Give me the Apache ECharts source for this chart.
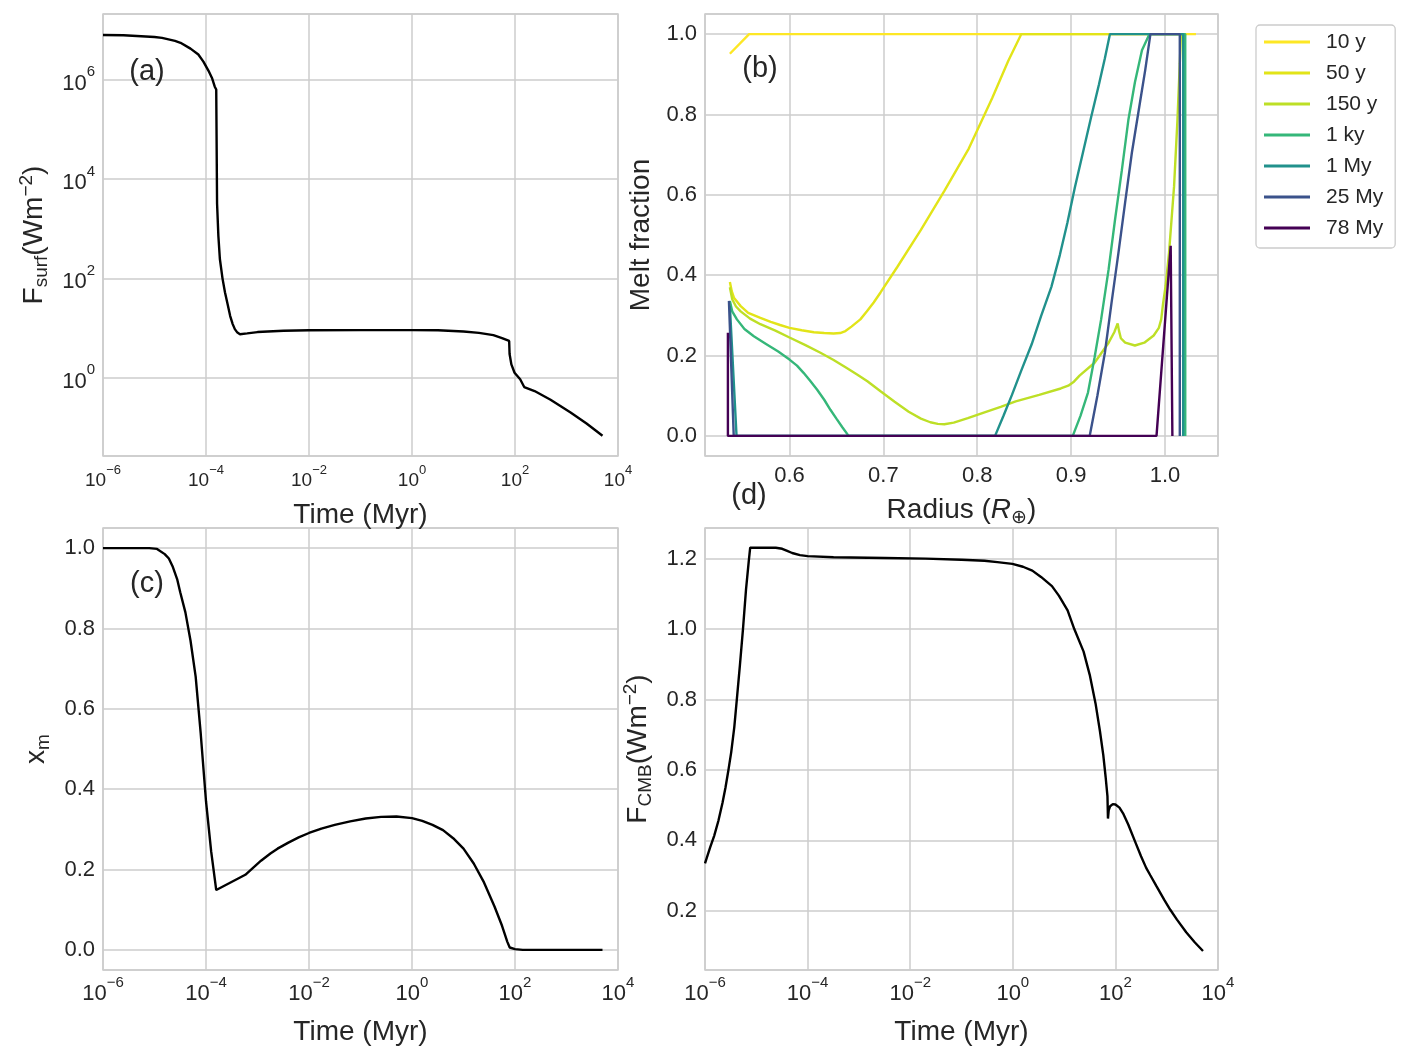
<!DOCTYPE html>
<html>
<head>
<meta charset="utf-8">
<script src="https://cdn.jsdelivr.net/npm/echarts@6/dist/echarts.min.js"></script>
<style>
  html, body { margin: 0; padding: 0; background: #fff; }
  #chart { width: 1409px; height: 1060px; }
</style>
</head>
<body>
<div id="chart"></div>
<script>
// (a) surface heat flux vs time (Myr, W m^-2)
var surfTime = [1e-6, 2.5e-6, 1e-5, 1.4e-5, 2.5e-5, 3.2e-5, 5e-5, 7.1e-5, 8.9e-5, 1.12e-4,
  1.32e-4, 1.48e-4, 1.58e-4, 1.62e-4, 1.64e-4, 1.74e-4, 1.86e-4, 2.09e-4, 2.34e-4, 2.63e-4,
  2.95e-4, 3.3e-4, 3.63e-4, 4.07e-4, 4.57e-4, 6.3e-4, 1e-3, 3.2e-3, 1e-2, 0.1,
  1, 3.2, 10, 20, 38, 56, 77, 78.5, 85, 98,
  126, 151, 240, 490, 1200, 2450, 5000];
var surfFlux = [7.9e6, 7.8e6, 7.2e6, 6.9e6, 6.0e6, 5.5e6, 4.2e6, 3.2e6, 2.3e6, 1.5e6,
  1.05e6, 7.2e5, 6.3e5, 6.0e5, 3.2e3, 708, 245, 100, 52, 30,
  17.4, 12, 9.5, 8.1, 7.5, 7.8, 8.3, 8.8, 9.0, 9.1,
  9.1, 9.0, 8.5, 8.0, 7.2, 6.3, 5.5, 3.0, 1.86, 1.26,
  0.93, 0.65, 0.54, 0.36, 0.20, 0.12, 0.068];

// (c) mantle melt fraction x_m vs time
var meltTime = [1e-6, 7.9e-6, 1.12e-5, 1.58e-5, 1.9e-5, 2.24e-5, 2.75e-5, 3.16e-5, 3.98e-5, 5e-5,
  6.3e-5, 7.9e-5, 1e-4, 1.26e-4, 1.58e-4, 5.8e-4, 1.17e-3, 1.78e-3, 2.45e-3, 3.98e-3,
  6.3e-3, 1e-2, 1.74e-2, 3.16e-2, 6.3e-2, 0.126, 0.25, 0.5, 1, 1.58,
  2.5, 4, 6.3, 10, 15.8, 25, 40, 56, 71, 79,
  100, 141, 5000];
var meltFrac = [1.0, 1.0, 0.998, 0.985, 0.974, 0.955, 0.923, 0.89, 0.84, 0.77,
  0.68, 0.538, 0.37, 0.245, 0.149, 0.187, 0.222, 0.24, 0.252, 0.267,
  0.280, 0.291, 0.302, 0.311, 0.320, 0.327, 0.331, 0.332, 0.328, 0.321,
  0.311, 0.298, 0.278, 0.252, 0.215, 0.168, 0.108, 0.06, 0.02, 0.006,
  0.002, 0.0, 0.0];

// (d) core-mantle boundary heat flux vs time
var cmbTime = [1e-6, 1.26e-6, 1.51e-6, 1.82e-6, 2.19e-6, 2.51e-6, 2.82e-6, 3.24e-6, 3.72e-6, 4.17e-6,
  4.79e-6, 5.5e-6, 6.3e-6, 7.1e-6, 7.6e-6, 2.4e-5, 3.2e-5, 4e-5, 5e-5, 7.1e-5,
  1e-4, 3.2e-4, 3.2e-3, 2e-2, 0.1, 0.28, 0.5, 0.98, 1.58, 2.4,
  3.55, 5.8, 7.9, 11.7, 15.8, 24, 31.6, 41, 50, 58,
  64.5, 70, 71.6, 74, 79, 89, 100, 120, 141, 178,
  240, 316, 398, 479, 631, 891, 1175, 1585, 2400, 3548, 5100];
var cmbFlux = [0.335, 0.38, 0.413, 0.455, 0.506, 0.55, 0.594, 0.65, 0.721, 0.80,
  0.897, 1.0, 1.112, 1.19, 1.231, 1.231, 1.228, 1.222, 1.216, 1.210,
  1.207, 1.204, 1.202, 1.200, 1.197, 1.194, 1.19, 1.185, 1.177, 1.166,
  1.148, 1.122, 1.095, 1.053, 1.0, 0.936, 0.87, 0.789, 0.71, 0.643,
  0.58, 0.526, 0.462, 0.485, 0.497, 0.503, 0.502, 0.493, 0.477, 0.445,
  0.398, 0.355, 0.322, 0.301, 0.27, 0.232, 0.203, 0.175, 0.139, 0.11, 0.086];

// (b) melt fraction profiles vs radius (R_earth)
var profileNames = ['10 y', '50 y', '150 y', '1 ky', '1 My', '25 My', '78 My'];
var r10y = [0.5365, 0.557, 1.033];
var m10y = [0.951, 1.0, 1.0];
var r50y = [0.5365, 0.5385, 0.541, 0.548, 0.556, 0.569, 0.58, 0.59, 0.60, 0.613,
  0.626, 0.637, 0.647, 0.654, 0.6596, 0.666, 0.6755, 0.6825, 0.6897, 0.697,
  0.715, 0.740, 0.765, 0.791, 0.816, 0.833, 0.847, 1.02];
var m50y = [0.383, 0.36, 0.343, 0.323, 0.306, 0.294, 0.284, 0.276, 0.269, 0.263,
  0.258, 0.256, 0.255, 0.256, 0.261, 0.272, 0.29, 0.31, 0.332, 0.357,
  0.421, 0.513, 0.610, 0.715, 0.841, 0.933, 1.0, 1.0];
var r150y = [0.5365, 0.539, 0.543, 0.548, 0.558, 0.569, 0.585, 0.6, 0.617, 0.633,
  0.647, 0.661, 0.672, 0.683, 0.697, 0.712, 0.727, 0.74, 0.75, 0.758,
  0.765, 0.775, 0.79, 0.807, 0.825, 0.841, 0.866, 0.889, 0.897, 0.903,
  0.909, 0.925, 0.94, 0.946, 0.9496, 0.951, 0.953, 0.9576, 0.968, 0.978,
  0.988, 0.9935, 0.996, 0.998, 1.0007, 1.0043, 1.0097, 1.0133, 1.0158, 1.017, 1.022];
var m150y = [0.37, 0.34, 0.322, 0.31, 0.292, 0.278, 0.262, 0.245, 0.226, 0.207,
  0.189, 0.169, 0.153, 0.136, 0.111, 0.085, 0.06, 0.043, 0.034, 0.030,
  0.029, 0.033, 0.044, 0.058, 0.072, 0.086, 0.102, 0.118, 0.125, 0.135,
  0.150, 0.182, 0.232, 0.258, 0.280, 0.262, 0.243, 0.232, 0.225, 0.232,
  0.250, 0.269, 0.290, 0.33, 0.373, 0.455, 0.621, 0.786, 0.927, 1.0, 1.0];
var r1ky = [0.5365, 0.539, 0.544, 0.552, 0.562, 0.575, 0.588, 0.6, 0.608, 0.615,
  0.622, 0.6295, 0.637, 0.6436, 0.65, 0.6565, 0.663, 0.9018, 0.91, 0.918,
  0.925, 0.932, 0.94, 0.9468, 0.954, 0.961, 0.968, 0.9755, 0.9835, 1.0216, 1.0216];
var m1ky = [0.336, 0.31, 0.29, 0.266, 0.248, 0.229, 0.21, 0.19, 0.175, 0.157,
  0.137, 0.115, 0.09, 0.065, 0.043, 0.021, 0.0, 0.0, 0.05, 0.108,
  0.195, 0.290, 0.415, 0.538, 0.66, 0.786, 0.88, 0.96, 1.0, 1.0, 0.0];
var r1My = [0.5365, 0.5436, 0.819, 0.828, 0.837, 0.847, 0.858, 0.868, 0.879, 0.888,
  0.896, 0.904, 0.9127, 0.921, 0.9296, 0.936, 0.9414, 1.0194, 1.0194];
var m1My = [0.324, 0.0, 0.0, 0.05, 0.102, 0.163, 0.228, 0.298, 0.371, 0.45,
  0.530, 0.618, 0.706, 0.79, 0.874, 0.94, 1.0, 1.0, 0.0];
var r25My = [0.5355, 0.5406, 0.9198, 0.928, 0.936, 0.943, 0.9504, 0.9575, 0.9647, 0.972,
  0.979, 0.9845, 1.0158, 1.0158];
var m25My = [0.336, 0.0, 0.0, 0.1, 0.207, 0.33, 0.455, 0.58, 0.704, 0.81,
  0.911, 1.0, 1.0, 0.0];
var r78My = [0.5344, 0.5344, 0.991, 1.0061, 1.0079];
var m78My = [0.257, 0.0, 0.0, 0.473, 0.0];

var profileR = [r10y, r50y, r150y, r1ky, r1My, r25My, r78My];
var profileM = [m10y, m50y, m150y, m1ky, m1My, m25My, m78My];
var profileColors = ['#fde725', '#e2e418', '#bddf26', '#35b779', '#21918c', '#3b528b', '#440154'];

var font = 'Liberation Sans';
var ink = '#262626';
var gridGray = '#cccccc';

var chart = echarts.init(document.getElementById('chart'));

// log10 of the values, the value axes carry the decades
var logPairs = function(xs, ys, logY) {
  return xs.map(function(x, i) {
    return [Math.log10(x), logY ? Math.log10(ys[i]) : ys[i]];
  });
};
var pairs = function(xs, ys) {
  return xs.map(function(x, i) { return [x, ys[i]]; });
};

var powLabel = function(v) {
  var e = Math.round(v);
  if (Math.abs(v - e) > 1e-6) return '';
  return '{b|10}{s|' + (e < 0 ? '\u2212' + (-e) : e) + '}';
};
var powRich = function(base, sup, lh) {
  return {
    b: { fontFamily: font, fontSize: base, color: ink, verticalAlign: 'bottom', lineHeight: lh },
    s: { fontFamily: font, fontSize: sup, color: ink, verticalAlign: 'top', lineHeight: sup + 1 }
  };
};
var nameRich = {
  n: { fontFamily: font, fontSize: 28, color: ink, verticalAlign: 'middle', lineHeight: 34 },
  i: { fontFamily: font, fontSize: 28, color: ink, fontStyle: 'italic', verticalAlign: 'middle', lineHeight: 34 },
  sub: { fontFamily: font, fontSize: 19, color: ink, verticalAlign: 'bottom', lineHeight: 22 },
  sup: { fontFamily: font, fontSize: 19, color: ink, verticalAlign: 'top', lineHeight: 22 }
};

var baseAxis = function(extra) {
  var ax = {
    type: 'value',
    axisLine: { show: false },
    axisTick: { show: false },
    splitLine: { show: true, lineStyle: { color: gridGray, width: 1.5 } },
    nameLocation: 'middle',
    nameMoveOverlap: false,
    nameTextStyle: { fontFamily: font, fontSize: 28, color: ink, rich: nameRich },
    axisLabel: { color: ink, fontFamily: font, fontSize: 22, margin: 8 }
  };
  for (var k in extra) {
    if (k === 'axisLabel') {
      for (var j in extra.axisLabel) ax.axisLabel[j] = extra.axisLabel[j];
    } else {
      ax[k] = extra[k];
    }
  }
  return ax;
};

var fixed1 = function(v) { return v.toFixed(1); };

var timeAxis = function(gi, base, sup, lh, margin, gap) {
  return baseAxis({
    gridIndex: gi, min: -6, max: 4, interval: 2,
    name: '{n|Time (Myr)}', nameGap: gap,
    axisLabel: { formatter: powLabel, rich: powRich(base, sup, lh), margin: margin, showMinLabel: true, showMaxLabel: true }
  });
};

var lineSeries = function(name, xi, yi, data, color) {
  return {
    name: name, type: 'line', xAxisIndex: xi, yAxisIndex: yi, data: data,
    symbol: 'none', showSymbol: false, smooth: false, animation: false,
    lineStyle: { color: color, width: 2.4 },
    itemStyle: { color: color }
  };
};

var series = [
  lineSeries('Fsurf', 0, 0, logPairs(surfTime, surfFlux, true), '#000000'),
  lineSeries('xm', 2, 2, logPairs(meltTime, meltFrac, false), '#000000'),
  lineSeries('Fcmb', 3, 3, logPairs(cmbTime, cmbFlux, false), '#000000')
];
profileNames.forEach(function(n, k) {
  series.push(lineSeries(n, 1, 1, pairs(profileR[k], profileM[k]), profileColors[k]));
});

var panelLabel = function(txt, x, y) {
  return {
    type: 'text', x: x, y: y, z: 100,
    style: { text: txt, fill: ink, font: '29px "Liberation Sans"', align: 'center', verticalAlign: 'middle' }
  };
};

var gridBox = { show: true, borderColor: gridGray, borderWidth: 1.5, backgroundColor: 'transparent', containLabel: false, outerBoundsMode: 'none' };
var mkGrid = function(l, t, w, h) {
  var g = { left: l, top: t, width: w, height: h };
  for (var k in gridBox) g[k] = gridBox[k];
  return g;
};

option = {
  backgroundColor: '#ffffff',
  animation: false,
  grid: [
    mkGrid(103, 14, 515, 442),
    mkGrid(705, 14, 513, 442),
    mkGrid(103, 528, 515, 442),
    mkGrid(705, 528, 513, 442)
  ],
  xAxis: [
    timeAxis(0, 19, 13, 26, 8, 42),
    baseAxis({
      gridIndex: 1, min: 0.51, max: 1.0565,
      name: '{n|Radius (}{i|R}{sub|\u2295}{n|)}', nameGap: 37,
      axisLabel: { formatter: fixed1, showMinLabel: false, showMaxLabel: false, margin: 9 }
    }),
    timeAxis(2, 22, 15, 30, 5, 45),
    timeAxis(3, 22, 15, 30, 5, 45)
  ],
  yAxis: [
    baseAxis({
      gridIndex: 0, min: -1.575, max: 7.32, splitNumber: 5,
      name: '{n|F}{sub|surf}{n|(Wm}{sup|\u22122}{n|)}', nameGap: 52, nameRotate: 90,
      axisLabel: { formatter: powLabel, rich: powRich(22, 15, 30), showMinLabel: false, showMaxLabel: false }
    }),
    baseAxis({
      gridIndex: 1, min: -0.05, max: 1.05, splitNumber: 5,
      name: '{n|Melt fraction}', nameGap: 47, nameRotate: 90,
      axisLabel: { formatter: fixed1, showMinLabel: false, showMaxLabel: false }
    }),
    baseAxis({
      gridIndex: 2, min: -0.05, max: 1.05, splitNumber: 5,
      name: '{n|x}{sub|m}', nameGap: 50, nameRotate: 90,
      axisLabel: { formatter: fixed1, showMinLabel: false, showMaxLabel: false }
    }),
    baseAxis({
      gridIndex: 3, min: 0.032, max: 1.287, splitNumber: 6,
      name: '{n|F}{sub|CMB}{n|(Wm}{sup|\u22122}{n|)}', nameGap: 50, nameRotate: 90,
      axisLabel: { formatter: fixed1, showMinLabel: false, showMaxLabel: false }
    })
  ],
  legend: {
    data: profileNames,
    orient: 'vertical',
    left: 1256, top: 25,
    padding: [6, 12, 9, 8],
    icon: 'rect',
    itemWidth: 46, itemHeight: 3, itemGap: 9,
    backgroundColor: '#ffffff',
    borderColor: gridGray, borderWidth: 1.3, borderRadius: 4,
    textStyle: { color: ink, fontFamily: font, fontSize: 21, lineHeight: 22, padding: [0, 0, 0, 11] }
  },
  graphic: [
    panelLabel('(a)', 147, 72),
    panelLabel('(b)', 760, 69),
    panelLabel('(c)', 147, 584),
    panelLabel('(d)', 749, 496)
  ],
  series: series
};
chart.setOption(option);
</script>
</body>
</html>
